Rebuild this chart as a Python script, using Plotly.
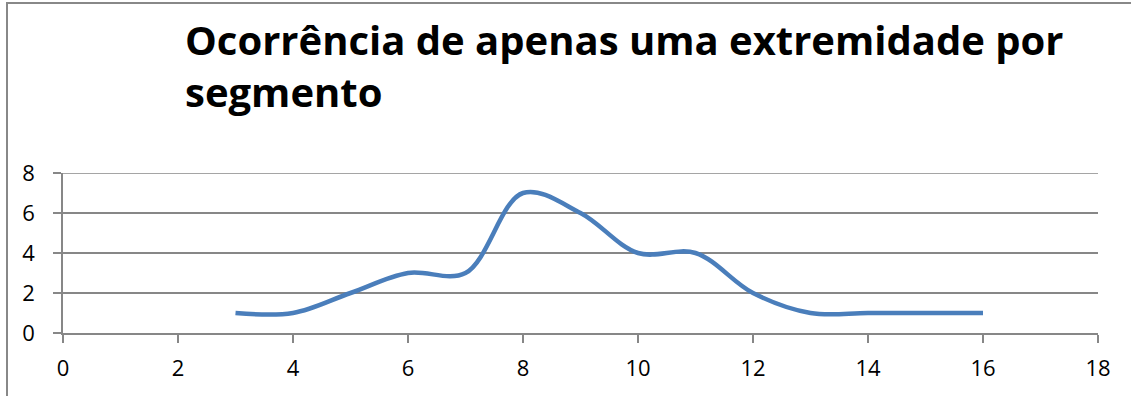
import plotly.graph_objects as go

# Segment index vs. number of occurrences
segmentos = [3, 4, 5, 6, 7, 8, 9, 10, 11, 12, 13, 14, 15, 16]
ocorrencias = [1, 1, 2, 3, 3, 7, 6, 4, 4, 2, 1, 1, 1, 1]

titulo_linhas = ["Ocorrência de apenas uma extremidade por", "segmento"]

W, H = 1131, 396
ML, MR, MT, MB = 63, 33, 173, 63
pw, ph = W - ML - MR, H - MT - MB

grid = "#878787"
fig = go.Figure()
fig.add_trace(go.Scatter(
    x=segmentos, y=ocorrencias, mode="lines",
    line=dict(color="#4A7EBB", width=4.5, shape="spline", smoothing=1.0),
    hoverinfo="skip", showlegend=False,
))

tick_font = dict(size=22, family="Open Sans", color="black")
fig.update_layout(
    width=W, height=H,
    margin=dict(l=ML, r=MR, t=MT, b=MB, pad=0),
    paper_bgcolor="white", plot_bgcolor="white",
    font=dict(family="Open Sans", color="black"),
    xaxis=dict(range=[0, 18], dtick=2, tick0=0, showgrid=False, zeroline=False,
               showline=True, linecolor=grid, linewidth=1.5,
               ticks="outside", ticklen=8, tickwidth=1.5, tickcolor=grid,
               tickfont=tick_font, ticklabelstandoff=7),
    yaxis=dict(range=[0, 8], dtick=2, tick0=0, showgrid=True, gridcolor=grid,
               gridwidth=1.5, zeroline=False,
               showline=True, linecolor=grid, linewidth=1.5,
               ticks="outside", ticklen=8, tickwidth=1.5, tickcolor=grid,
               tickfont=tick_font, ticklabelstandoff=14),
)

# top gridline at the upper end of the value axis
fig.add_shape(type="line", xref="x", yref="y", x0=0, x1=18, y0=8, y1=8,
              line=dict(color=grid, width=1.5), layer="below")

# chart frame (only its left and top edges fall inside the page)
fig.add_shape(type="rect", xref="paper", yref="paper",
              x0=(7 - ML) / pw, x1=(W + 20 - ML) / pw,
              y0=-(MB + 20) / ph, y1=(H - MB - 3) / ph,
              line=dict(color="#888888", width=2), fillcolor="rgba(0,0,0,0)",
              layer="below")

# two-line bold title, left aligned
fig.add_annotation(text="<br>".join(f"<b>{t}</b>" for t in titulo_linhas),
                   xref="paper", yref="paper",
                   x=(183 - ML) / pw, y=(H - MB - 121) / ph,
                   xanchor="left", yanchor="bottom", align="left",
                   showarrow=False,
                   font=dict(size=40, family="Open Sans", color="black"))

fig.write_html("out.html")
